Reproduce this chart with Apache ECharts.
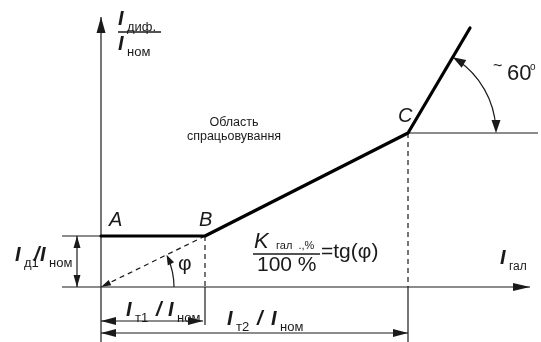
<!DOCTYPE html>
<html>
<head>
<meta charset="utf-8">
<script src="https://cdn.jsdelivr.net/npm/echarts@6/dist/echarts.min.js"></script>
<style>
  html, body { margin: 0; padding: 0; background: #fff; }
  #main { width: 541px; height: 342px; }
</style>
</head>
<body>
<div id="main"></div>
<script>
// Break points of the differential protection characteristic, in units of I_ном
const pointNames = ['A', 'B', 'C', ''];
const pointX = [0, 1.04, 3.07, 3.69];
const pointY = [0.51, 0.51, 1.54, 2.59];
// Visible extent of the (hidden) value axes
const xExtent = [-1.01, 4.40];
const yExtent = [-0.55, 2.87];

const FONT = "'Liberation Sans', Arial, sans-serif";
const INK = '#1a1a1a';

const chart = echarts.init(document.getElementById('main'), null, { renderer: 'canvas' });

function renderAnnotations(params, api) {
  const O = api.coord([0, 0]);
  const P = pointX.map((x, i) => api.coord([x, pointY[i]]));
  const [A, B, C, E] = P;
  const W = api.getWidth(), H = api.getHeight();
  const out = [];
  const thin = { stroke: INK, lineWidth: 1.2 };
  const dash = { lineDash: [5, 4] };

  function seg(p1, p2, extra) {
    out.push({ type: 'line', shape: { x1: p1[0], y1: p1[1], x2: p2[0], y2: p2[1] },
               style: Object.assign({}, thin, extra || {}) });
  }
  function head(tip, dir, len, wid) {
    const d = Math.hypot(dir[0], dir[1]);
    const ux = dir[0] / d, uy = dir[1] / d;
    const bx = tip[0] - ux * len, by = tip[1] - uy * len;
    out.push({ type: 'polygon',
      shape: { points: [tip, [bx - uy * wid / 2, by + ux * wid / 2], [bx + uy * wid / 2, by - ux * wid / 2]] },
      style: { fill: INK } });
  }
  function dim(p1, p2, len, wid) {
    seg(p1, p2);
    head(p1, [p1[0] - p2[0], p1[1] - p2[1]], len, wid);
    head(p2, [p2[0] - p1[0], p2[1] - p1[1]], len, wid);
  }
  function txt(x, base, text, size, opts) {
    opts = opts || {};
    out.push({ type: 'text', x: x, y: base - 0.36 * size,
      style: { text: text, fill: INK, align: opts.align || 'left', verticalAlign: 'middle',
               font: (opts.italic ? 'italic ' : '') + (opts.bold ? 'bold ' : '') + size + 'px ' + FONT } });
  }
  // current symbol I with a subscript
  function isub(x, base, sub, size, subSize) {
    txt(x, base, 'I', size, { italic: true, bold: true });
    txt(x + 0.45 * size, base + 5, sub, subSize);
  }

  // axes
  seg([O[0], H], [O[0], 17]);
  head([O[0], 17], [0, -1], 16, 9);
  seg([O[0] - 39, O[1]], [W - 11, O[1]]);
  head([W - 11, O[1]], [1, 0], 17, 8);

  // level I_д1 and its dimension arrow
  seg([O[0] - 39, A[1]], A);
  dim([O[0] - 24, A[1]], [O[0] - 24, O[1]], 12, 7);

  // projections of B and C
  seg(B, [B[0], O[1]], dash);
  seg([B[0], O[1]], [B[0], O[1] + 38]);
  seg(C, [C[0], O[1]], dash);
  seg([C[0], O[1]], [C[0], H]);
  seg(C, [W - 3, C[1]]);

  // dimension arrows I_т1, I_т2
  dim([O[0], O[1] + 34], [B[0] - 2, O[1] + 34], 15, 8);
  dim([O[0], O[1] + 46], [C[0], O[1] + 46], 15, 8);

  // slope line through origin and angle φ
  seg(B, O, dash);
  head(O, [O[0] - B[0], O[1] - B[1]], 10, 6);
  const phi = Math.atan2(O[1] - B[1], B[0] - O[0]);
  const r1 = 73;
  out.push({ type: 'arc', shape: { cx: O[0], cy: O[1], r: r1, startAngle: -phi + 0.05, endAngle: 0, clockwise: true },
             style: { stroke: INK, lineWidth: 1.2, fill: null } });
  head([O[0] + r1 * Math.cos(phi), O[1] - r1 * Math.sin(phi)], [-Math.sin(phi), -Math.cos(phi)], 10, 7);
  txt(O[0] + 77, O[1] - 15, 'φ', 21);

  // ~60° angle at C
  const psi = Math.atan2(C[1] - E[1], E[0] - C[0]);
  const r2 = 88;
  out.push({ type: 'arc', shape: { cx: C[0], cy: C[1], r: r2, startAngle: -psi + 0.06, endAngle: -0.06, clockwise: true },
             style: { stroke: INK, lineWidth: 1.2, fill: null } });
  head([C[0] + r2 * Math.cos(psi), C[1] - r2 * Math.sin(psi)], [-Math.sin(psi), -Math.cos(psi)], 13, 9);
  head([C[0] + r2, C[1]], [0, 1], 13, 9);

  // point names
  txt(A[0] + 8, A[1] - 8, pointNames[0], 20, { italic: true });
  txt(B[0] - 6, B[1] - 8, pointNames[1], 20, { italic: true });
  txt(C[0] - 10, C[1] - 9, pointNames[2], 20, { italic: true });

  // axis titles
  isub(O[0] + 17, 27, 'диф.', 20, 13);
  seg([O[0] + 17, 32], [O[0] + 60, 32], { lineWidth: 1.4 });
  isub(O[0] + 17, 52, 'ном', 20, 13);
  isub(W - 41, O[1] - 21, 'гал', 20, 12);

  // dimension captions
  isub(15, O[1] - 24, 'д1', 20, 13);
  txt(34, O[1] - 24, '/', 20, { italic: true, bold: true });
  isub(40, O[1] - 24, 'ном', 20, 13);
  isub(O[0] + 25, O[1] + 31, 'т1', 20, 13);
  txt(O[0] + 55, O[1] + 31, '/', 20, { italic: true, bold: true });
  isub(O[0] + 67, O[1] + 31, 'ном', 20, 13);
  isub(O[0] + 126, O[1] + 40, 'т2', 20, 13);
  txt(O[0] + 156, O[1] + 40, '/', 20, { italic: true, bold: true });
  isub(O[0] + 170, O[1] + 40, 'ном', 20, 13);

  // operating region caption
  txt(234, 127, 'Область', 12.5, { align: 'center' });
  txt(234, 141, 'спрацьовування', 12.5, { align: 'center' });

  // slope formula
  txt(254, 250, 'K', 22, { italic: true });
  txt(276, 250, 'гал  .,%', 11);
  seg([253, 254], [320, 254], { lineWidth: 1.4 });
  txt(257, 273, '100 %', 21);
  txt(321, 260, '=tg(φ)', 21);

  // ~60°
  txt(493, 72, '~', 16);
  txt(507, 82, '60', 22);
  txt(530, 71, 'o', 10);

  return { type: 'group', children: out };
}

chart.setOption({
  animation: false,
  grid: { left: 0, right: 0, top: 0, bottom: 0 },
  xAxis: { type: 'value', min: xExtent[0], max: xExtent[1], show: false },
  yAxis: { type: 'value', min: yExtent[0], max: yExtent[1], show: false },
  series: [
    {
      type: 'custom',
      coordinateSystem: 'cartesian2d',
      clip: false,
      silent: true,
      data: [[0, 0]],
      renderItem: renderAnnotations,
      z: 1
    },
    {
      type: 'line',
      data: pointX.map((x, i) => [x, pointY[i]]),
      symbol: 'none',
      silent: true,
      lineStyle: { color: '#000', width: 3.2, cap: 'round', join: 'round' },
      z: 2
    }
  ]
});
</script>
</body>
</html>
